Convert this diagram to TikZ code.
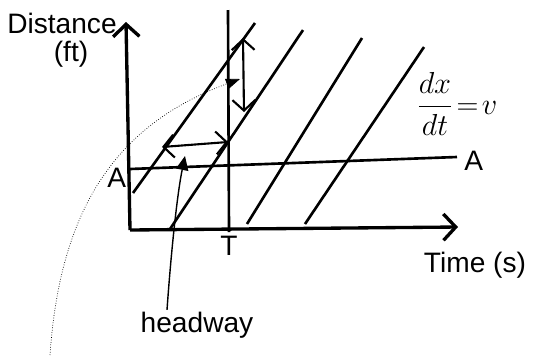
\documentclass[tikz,border=0pt]{standalone}
\usepackage{fontspec}
\usepackage{amsmath}
\usetikzlibrary{arrows.meta,positioning,calc}
\setmainfont{Liberation Sans}

\begin{document}
\begin{tikzpicture}[x=0.02cm,y=-0.02cm,
    hand/.style={font=\fontsize{16}{19}\selectfont,inner sep=1pt},
    axis/.style={line width=1.9pt,-{Straight Barb[length=7pt,width=15pt]}},
    traj/.style={line width=1.5pt},
    gap/.style={line width=1.2pt,{Straight Barb[length=6pt,width=13pt]}-{Straight Barb[length=6pt,width=13pt]}},
    pointer/.style={line width=0.8pt,-{Triangle[length=8pt,width=7pt]}},
    hint/.style={line width=0.4pt,densely dotted,-{Triangle[length=8pt,width=6pt,line width=0.4pt,sep=0pt]}}]
        \useasboundingbox (0,0) rectangle (541,356);
        % axes
        \coordinate (origin) at (130,230);
        \coordinate (ytip) at (126,22);
        \coordinate (xtip) at (458,227);
        \draw[axis] (origin) -- (ytip);
        \draw[axis] (origin) -- (xtip);
        \node[hand] (dist) at (62,23) {Distance};
        \node[hand,below=2pt of dist,xshift=0.18cm] (unit) {(ft)};
        \node[hand] (time) at (475,265) {Time (s)};
        % observation time T and location A
        \coordinate (ttop) at (228,10);
        \coordinate (tbot) at (229,232);
        \draw[traj] (ttop) -- (tbot);
        \node[hand,below=1pt of tbot] (tlab) {T};
        \coordinate (aleft) at (130,169);
        \coordinate (aright) at (457,157);
        \draw[traj] (aleft) -- (aright);
        \node[hand,left=1pt of aleft,yshift=-0.18cm] (alab) {A};
        \node[hand,right=3pt of aright,yshift=-0.08cm] (arlab) {A};
        % vehicle trajectories
        \draw[traj] (133,193) -- (255,23);
        \draw[traj] (170,229) -- (303,30);
        \draw[traj] (247,224) -- (362,38);
        \draw[traj] (305,224) -- (424,47);
        \node[hand] (rate) at (457,104) {$\dfrac{dx}{dt}\!=\!v$};
        % headway and spacing
        \coordinate (hwl) at (162,147);
        \coordinate (hwr) at (228,142);
        \draw[gap] (hwl) -- (hwr);
        \coordinate (spt) at (243,38);
        \coordinate (spb) at (244,112);
        \draw[gap] (spt) -- (spb);
        \node[hand] (headway) at (197,325) {headway};
        \draw[pointer] ([xshift=-0.6cm]headway.north) .. controls (172,240) and (178,190) .. (185,156);
        \draw[hint] (50,355) .. controls (60,210) and (115,125) .. (240,79);
      \end{tikzpicture}
\end{document}
